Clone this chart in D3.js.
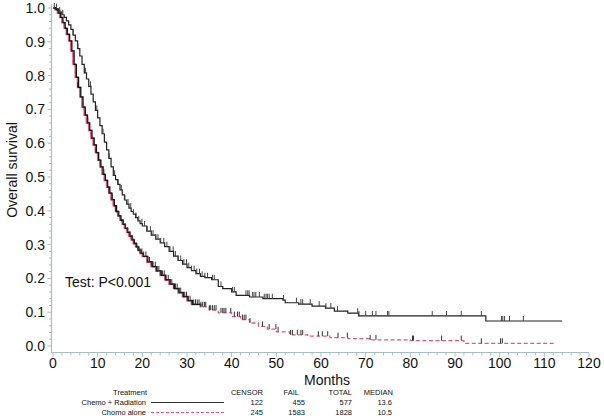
<!DOCTYPE html>
<html><head><meta charset="utf-8">
<script src="https://cdn.jsdelivr.net/npm/d3@7"></script>
<style>body{margin:0;background:#fff}svg{display:block}text{font-family:"Liberation Sans",Arial,sans-serif;fill:#111}</style>
</head><body>
<svg id="c" width="604" height="416"></svg>
<script>
// ---- data ----
const xTicks = [0,10,20,30,40,50,60,70,80,90,100,110,120];
const yTicks = [0,0.1,0.2,0.3,0.4,0.5,0.6,0.7,0.8,0.9,1.0];
const seriesNames = ["Chemo + Radiation","Chomo alone"];
const censorCol = [122,245], failCol = [455,1583], totalCol = [577,1828], medianCol = ["13.6","10.5"];

const radTime = [0,0.5,1,1.5,2,2.5,3,3.5,4,4.5,5,5.5,6,6.5,7,7.5,8,8.5,9,9.5,10,10.5,11,11.5,12,12.5,13,13.5,14,14.5,15,15.5,16,16.5,17,17.5,18,18.5,19,19.5,20,21,22,23,24,25,26,27,28,29,30,31,32,33,34,35.5,37,38,40,41,44,47,51.5,52,55,58,61,63,66,68.4,96.9,114];
const radSurv = [1,0.998,0.993,0.988,0.98,0.972,0.962,0.95,0.937,0.92,0.903,0.88,0.858,0.833,0.808,0.79,0.768,0.745,0.722,0.697,0.675,0.652,0.628,0.603,0.58,0.555,0.53,0.505,0.492,0.478,0.462,0.447,0.432,0.42,0.408,0.398,0.39,0.38,0.37,0.362,0.355,0.34,0.328,0.316,0.305,0.294,0.28,0.266,0.253,0.242,0.232,0.223,0.214,0.206,0.202,0.196,0.176,0.17,0.16,0.15,0.145,0.14,0.136,0.128,0.124,0.118,0.112,0.103,0.097,0.089,0.074,0.074];
const radCensor = [0.3,0.8,1.5,2.2,4.5,5.6,7.3,8.4,9.8,11.2,12.6,13.8,14.6,15.3,16.1,16.8,17.4,18.0,18.6,19.2,19.9,20.5,21.1,21.8,22.4,23.0,23.5,24.1,24.8,25.5,26.2,26.9,27.4,28.0,28.6,29.3,29.9,30.4,31.0,31.6,32.2,32.8,33.4,34.0,34.6,35.7,36.1,37.6,40.2,40.6,43.2,43.6,43.9,44.7,45.0,45.4,46.2,47.3,47.7,48.0,48.4,49.1,51.6,54.5,55.5,55.9,57.6,59.6,61.1,62.2,63.7,68.2,68.5,70.0,71.5,72.3,74.9,75.2,84.9,88.1,91.4,95.9,100.4,100.7,101.1,102.2,105.3];

const aloneTime = [0,0.5,1,1.5,2,2.5,3,3.5,4,4.5,5,5.5,6,6.5,7,7.5,8,8.5,9,9.5,10,10.5,11,11.5,12,12.5,13,13.5,14,14.5,15,15.5,16,16.5,17,17.5,18,18.5,19,19.5,20,21,22,23,24,25,26,27,28,29,30,31,33,35,37,40,42,44,46,48,50,53,57,62,66,71,80,92,112.5];
const aloneSurv = [1,0.995,0.985,0.972,0.957,0.94,0.922,0.903,0.873,0.833,0.795,0.765,0.737,0.707,0.683,0.66,0.638,0.615,0.595,0.572,0.55,0.53,0.508,0.49,0.47,0.452,0.433,0.415,0.398,0.385,0.372,0.36,0.348,0.336,0.325,0.314,0.303,0.293,0.283,0.274,0.265,0.249,0.235,0.222,0.209,0.196,0.183,0.17,0.158,0.146,0.134,0.123,0.116,0.106,0.098,0.087,0.078,0.068,0.058,0.05,0.042,0.033,0.029,0.025,0.022,0.018,0.016,0.008,0.008];
const aloneCensor = [1.2,3.1,5.5,7.8,9.6,11.4,12.5,13.3,14.0,14.6,15.1,15.7,16.2,16.7,17.2,17.7,18.1,18.6,19.0,19.5,19.9,20.3,20.8,21.2,21.6,22.0,22.4,22.9,23.3,23.7,24.1,24.5,24.9,25.3,25.8,26.2,26.6,27.0,27.4,27.8,28.2,28.6,29.1,29.5,29.9,30.3,30.7,31.1,31.5,31.9,32.3,32.7,33.1,33.5,33.9,34.2,35.0,35.3,35.7,36.1,36.5,37.6,38.0,38.3,38.7,39.8,40.6,41.3,41.7,42.4,42.8,43.2,44.1,46.9,48.4,49.9,50.4,53.2,53.6,54.7,55.5,55.9,59.4,60.3,61.5,63.8,65.9,71.0,72.3,80.5,80.7,87.0,91.4,95.9,100.2,100.6];

// ---- drawing ----
const svg = d3.select("#c");
const x = d3.scaleLinear([0,120],[53,589]);
const y = d3.scaleLinear([0,1],[346,8]);
const axisCol = "#a9bec4";

// axes lines
svg.append("line").attr("x1",51).attr("x2",589).attr("y1",352.5).attr("y2",352.5).attr("stroke",axisCol).attr("stroke-width",1.2);
svg.append("line").attr("x1",51.5).attr("x2",51.5).attr("y1",4).attr("y2",352.5).attr("stroke",axisCol).attr("stroke-width",1.2);

// x ticks
const xMinor = d3.range(0,121,2);
svg.append("g").selectAll("line").data(xMinor).join("line")
  .attr("x1",d=>x(d)).attr("x2",d=>x(d)).attr("y1",352.5)
  .attr("y2",d=>d%10===0?357:355.5).attr("stroke",axisCol).attr("stroke-width",1);
svg.append("g").selectAll("text").data(xTicks).join("text")
  .attr("x",d=>x(d)).attr("y",368).attr("text-anchor","middle").attr("font-size",14).text(d=>d);
// y ticks
const yMinor = d3.range(0,51).map(i=>i/50);
svg.append("g").selectAll("line").data(yMinor).join("line")
  .attr("y1",d=>y(d)).attr("y2",d=>y(d)).attr("x1",51.5)
  .attr("x2",(d,i)=>i%5===0?47.5:49).attr("stroke",axisCol).attr("stroke-width",1);
svg.append("g").selectAll("text").data(yTicks).join("text")
  .attr("x",45).attr("y",d=>y(d)+5).attr("text-anchor","end").attr("font-size",14).text(d=>d.toFixed(1));

svg.append("text").attr("x",327).attr("y",385).attr("text-anchor","middle").attr("font-size",14).text("Months");
svg.append("text").attr("transform","translate(17,170) rotate(-90)").attr("text-anchor","middle").attr("font-size",14).text("Overall survival");
svg.append("text").attr("x",65).attr("y",287).attr("font-size",14).text("Test: P<0.001");

const rad = radTime.map((t,i)=>[t,radSurv[i]]);
const alone = aloneTime.map((t,i)=>[t,aloneSurv[i]]);
const line = d3.line().x(d=>x(d[0])).y(d=>y(d[1])).curve(d3.curveStepAfter);

svg.append("clipPath").attr("id","early").append("rect").attr("x",0).attr("y",0).attr("width",x(33)).attr("height",416);

svg.append("path").attr("d",line(alone)).attr("fill","none").attr("stroke","#e8557a").attr("stroke-width",1.3).attr("stroke-dasharray","4,2.5");
svg.append("path").attr("d",line(alone)).attr("fill","none").attr("stroke","#e8557a").attr("stroke-width",1.6).attr("clip-path","url(#early)");
svg.append("path").attr("d",line(alone)).attr("transform","translate(1,0)").attr("fill","none").attr("stroke","#111").attr("stroke-width",1.3).attr("clip-path","url(#early)");
svg.append("path").attr("d",line(rad)).attr("fill","none").attr("stroke","#222").attr("stroke-width",1.2);

function survAt(times,surv,t){const i=d3.bisectRight(times,t)-1;return surv[Math.max(0,i)];}
svg.append("g").selectAll("line").data(radCensor).join("line")
  .attr("x1",d=>x(d)).attr("x2",d=>x(d)).attr("y1",d=>y(survAt(radTime,radSurv,d)))
  .attr("y2",d=>y(survAt(radTime,radSurv,d))-5).attr("stroke","#444").attr("stroke-width",1);
svg.append("g").selectAll("line").data(aloneCensor).join("line")
  .attr("x1",d=>x(d)).attr("x2",d=>x(d)).attr("y1",d=>y(survAt(aloneTime,aloneSurv,d)))
  .attr("y2",d=>y(survAt(aloneTime,aloneSurv,d))-5).attr("stroke","#333").attr("stroke-width",1);

// legend table
const lf = 7.5;
const lg = svg.append("g").attr("font-size",lf);
lg.append("text").attr("x",147).attr("y",395).attr("text-anchor","end").attr("font-size",lf).text("Treatment");
const rows = [405,415];
seriesNames.forEach((n,i)=>{
  lg.append("text").attr("x",146).attr("y",rows[i]).attr("text-anchor","end").attr("font-size",lf).text(n);
});
lg.append("line").attr("x1",151).attr("x2",224).attr("y1",402.5).attr("y2",402.5).attr("stroke","#333").attr("stroke-width",1);
lg.append("line").attr("x1",151).attr("x2",224).attr("y1",412.5).attr("y2",412.5).attr("stroke","#e8557a").attr("stroke-width",1.2).attr("stroke-dasharray","3,2");
const cols = [{h:"CENSOR",hx:263,v:censorCol,vx:263},{h:"FAIL",hx:299,v:failCol,vx:305},{h:"TOTAL",hx:352,v:totalCol,vx:352},{h:"MEDIAN",hx:393,v:medianCol,vx:392}];
cols.forEach(c=>{
  lg.append("text").attr("x",c.hx).attr("y",395).attr("text-anchor","end").attr("font-size",lf).text(c.h);
  c.v.forEach((v,i)=>lg.append("text").attr("x",c.vx).attr("y",rows[i]).attr("text-anchor","end").attr("font-size",lf).text(v));
});
</script>
</body></html>
